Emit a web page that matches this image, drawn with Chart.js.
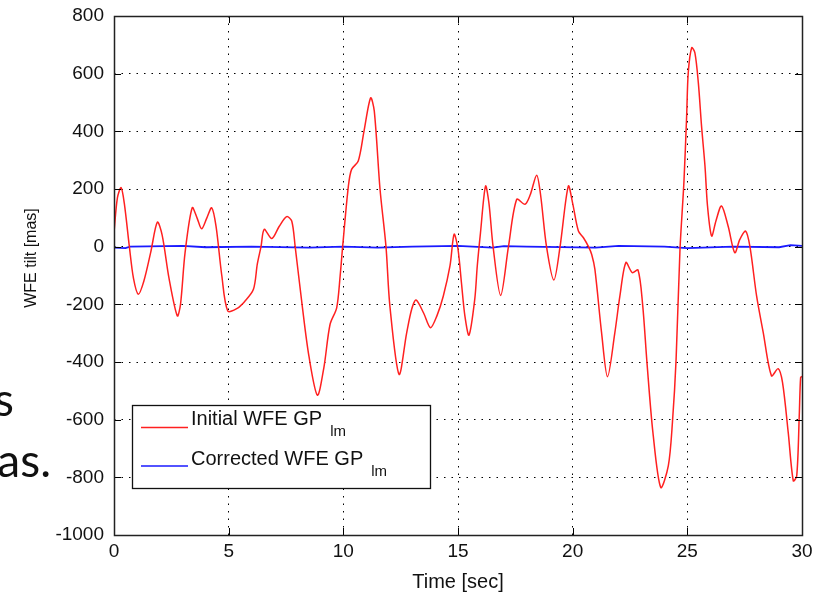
<!DOCTYPE html>
<html>
<head>
<meta charset="utf-8">
<title>WFE tilt</title>
<script src="https://cdn.jsdelivr.net/npm/chart.js@4/dist/chart.umd.min.js"></script>
<style>
    html, body { margin: 0; padding: 0; background: #fff; }
    #wrap { position: relative; width: 815px; height: 594px; overflow: hidden; }
    #wfeChart { position: absolute; left: 0; top: 0; }
    .slide-text {
        position: absolute;
        font-family: Lato, 'Noto Sans', sans-serif;
        font-size: 46px;
        line-height: 46px;
        color: #111;
        white-space: nowrap;
    }
</style>
</head>
<body>
<div id="wrap">
    <canvas id="wfeChart" width="815" height="594"></canvas>
    <div class="slide-text" style="right: 801px; top: 376px;">s</div>
    <div class="slide-text" style="right: 764px; top: 437px;">as.</div>
</div>
<script>
// ─── Data ─────────────────────────────────────────────────────────────────

const initialTime = [
    0, 0.15, 0.31, 0.45, 0.67, 0.85, 1.06, 1.3, 1.6, 1.89,
    2.1, 2.4, 2.76, 2.9, 3.1, 3.41, 3.62, 3.82, 4.05, 4.26,
    4.45, 4.7, 4.96, 5.35, 5.7, 6.08, 6.25, 6.41, 6.55, 6.88,
    7.2, 7.53, 7.75, 7.9, 8.2, 8.5, 8.87, 9.15, 9.42, 9.71,
    9.86, 9.97, 10.22, 10.36, 10.65, 10.9, 11.19, 11.35, 11.6, 11.86,
    12.03, 12.43, 12.76, 12.98, 13.17, 13.5, 13.8, 14.08, 14.36, 14.65,
    14.83, 15.0, 15.15, 15.3, 15.48, 15.73, 15.84, 15.98, 16.2, 16.35,
    16.53, 16.86, 17.2, 17.56, 17.92, 18.15, 18.43, 18.6, 18.86, 19.18,
    19.45, 19.81, 20.0, 20.25, 20.47, 20.69, 20.83, 20.97, 21.26, 21.52,
    21.84, 22.06, 22.32, 22.6, 22.85, 23.05, 23.24, 23.5, 23.84, 24.17,
    24.35, 24.51, 24.68, 24.85, 24.97, 25.04, 25.19, 25.33, 25.48, 25.62,
    25.77, 25.88, 26.06, 26.25, 26.49, 26.78, 27.07, 27.29, 27.54, 27.73,
    28.02, 28.31, 28.67, 28.96, 29.15, 29.4, 29.62, 29.77, 29.88, 29.94,
    30.0
];
const initialWfe = [
    50, 170, 205, 150, 0, -110, -165, -120, -20, 85,
    40, -110, -240, -200, -20, 135, 100, 62, 100, 135,
    70, -100, -223, -215, -190, -148, -60, 0, 60, 28,
    70, 104, 89, 0, -200, -380, -515, -420, -270, -212,
    -102, 0, 210, 268, 297, 400, 516, 470, 199, 0,
    -206, -443, -300, -217, -185, -230, -281, -240, -171, -67,
    43, -9, -125, -240, -307, -183, -67, 48, 210, 150,
    0, -169, 0, 164, 147, 180, 248, 180, 0, -116,
    0, 210, 150, 54, 31, 0, -27, -79, -298, -451,
    -298, -171, -55, -90, -81, -200, -402, -645, -835, -760,
    -610, -391, -9, 222, 453, 603, 690, 672, 568, 418,
    279, 141, 37, 90, 141, 71, -21, 25, 54, 0,
    -171, -298, -448, -423, -471, -645, -812, -795, -587, -454,
    -450
];

const correctedTime = [0, 0.5, 0.7, 3, 4, 6, 8.5, 10, 11.5, 13, 15, 16.5, 17, 18, 21, 22, 24, 25, 27, 29, 29.5, 30];
const correctedWfe  = [-3, -5, 0, 3, -2, 0, -3, 0, -3, 0, 3, -3, 2, 0, -3, 3, 0, -5, 0, -2, 5, 3];

const xTicks = [0, 5, 10, 15, 20, 25, 30];
const yTicks = [-1000, -800, -600, -400, -200, 0, 200, 400, 600, 800];

const seriesNames = ['Initial WFE GP', 'Corrected WFE GP'];
const seriesSub = 'lm';
const seriesColors = ['#ff2020', '#1a1aff'];

const xTitle = 'Time [sec]';
const yTitle = 'WFE tilt [mas]';

// ─── Helpers ──────────────────────────────────────────────────────────────

const AXIS_FONT = 'Liberation Sans';

function toPoints(xs, ys) {
    return xs.map((x, i) => ({ x, y: ys[i] }));
}

// Fix the axis box size and drop the automatic label overhang padding,
// so the plot frame lands where the reference has it.
function fixedSize(prop, size) {
    return s => {
        s[prop] = size;
        s.paddingTop = s.paddingBottom = s.paddingLeft = s.paddingRight = 0;
    };
}

// MATLAB-style frame, inward ticks, rotated y label and legend
const matlabDecor = {
    id: 'matlabDecor',
    afterDraw(chart) {
        const { ctx, chartArea: a, scales } = chart;
        const tick = 7;
        ctx.save();
        ctx.strokeStyle = '#000';
        ctx.lineWidth = 1;
        ctx.setLineDash([]);

        // inward tick marks on all four sides
        ctx.beginPath();
        xTicks.forEach(v => {
            const px = Math.round(scales.x.getPixelForValue(v)) + 0.5;
            ctx.moveTo(px, a.bottom); ctx.lineTo(px, a.bottom - tick);
            ctx.moveTo(px, a.top); ctx.lineTo(px, a.top + tick);
        });
        yTicks.forEach(v => {
            const py = Math.round(scales.y.getPixelForValue(v)) + 0.5;
            ctx.moveTo(a.left, py); ctx.lineTo(a.left + tick, py);
            ctx.moveTo(a.right, py); ctx.lineTo(a.right - tick, py);
        });
        ctx.stroke();

        // frame
        ctx.lineWidth = 1.5;
        ctx.strokeStyle = '#222';
        ctx.strokeRect(Math.round(a.left) + 0.5, Math.round(a.top) + 0.5,
            Math.round(a.right - a.left), Math.round(a.bottom - a.top));

        // y axis title
        ctx.fillStyle = '#111';
        ctx.font = `16px "${AXIS_FONT}"`;
        ctx.textAlign = 'center';
        ctx.textBaseline = 'middle';
        ctx.translate(32, 258);
        ctx.rotate(-Math.PI / 2);
        ctx.fillText(yTitle, 0, 0);
        ctx.restore();

        // legend box
        ctx.save();
        const box = { x: 132.5, y: 405.5, w: 298, h: 83 };
        ctx.fillStyle = '#fff';
        ctx.fillRect(box.x, box.y, box.w, box.h);
        ctx.strokeStyle = '#111';
        ctx.lineWidth = 1.3;
        ctx.strokeRect(box.x, box.y, box.w, box.h);

        const rows = [427.5, 466];
        const baselines = [425, 465];
        rows.forEach((ly, i) => {
            ctx.strokeStyle = seriesColors[i];
            ctx.lineWidth = 1.5;
            ctx.beginPath();
            ctx.moveTo(141, ly);
            ctx.lineTo(188, ly);
            ctx.stroke();

            ctx.fillStyle = '#111';
            ctx.textAlign = 'left';
            ctx.textBaseline = 'alphabetic';
            ctx.font = `20px "${AXIS_FONT}"`;
            ctx.fillText(seriesNames[i], 191, baselines[i]);
            const w = ctx.measureText(seriesNames[i]).width;
            ctx.font = `15px "${AXIS_FONT}"`;
            ctx.fillText(seriesSub, 191 + w + 8, baselines[i] + 11);
        });
        ctx.restore();
    }
};

// ─── Chart ────────────────────────────────────────────────────────────────

const ctx = document.getElementById('wfeChart').getContext('2d');

new Chart(ctx, {
    type: 'line',
    data: {
        datasets: [{
            label: seriesNames[0],
            data: toPoints(initialTime, initialWfe),
            borderColor: seriesColors[0],
            borderWidth: 1.5,
            pointRadius: 0,
            tension: 0.3,
            fill: false
        }, {
            label: seriesNames[1],
            data: toPoints(correctedTime, correctedWfe),
            borderColor: seriesColors[1],
            borderWidth: 1.8,
            pointRadius: 0,
            tension: 0,
            fill: false
        }]
    },
    options: {
        responsive: false,
        animation: false,
        layout: { padding: { top: 16, right: 13, left: 0, bottom: 0 } },
        plugins: {
            legend: { display: false },
            tooltip: { enabled: false }
        },
        scales: {
            x: {
                type: 'linear',
                min: 0,
                max: 30,
                afterFit: fixedSize('height', 59),
                afterBuildTicks: s => { s.ticks = xTicks.map(v => ({ value: v })); },
                grid: { color: '#000', lineWidth: 1, drawTicks: false },
                border: { display: false, dash: [1.5, 6] },
                ticks: {
                    color: '#111',
                    padding: 5,
                    maxRotation: 0,
                    font: { family: AXIS_FONT, size: 19 },
                    callback: v => String(v)
                },
                title: {
                    display: true,
                    text: xTitle,
                    color: '#111',
                    padding: { top: 0, bottom: 0 },
                    font: { family: AXIS_FONT, size: 20 }
                }
            },
            y: {
                min: -1000,
                max: 800,
                afterFit: fixedSize('width', 114),
                afterBuildTicks: s => { s.ticks = yTicks.map(v => ({ value: v })); },
                grid: { color: '#000', lineWidth: 1, drawTicks: false },
                border: { display: false, dash: [1.5, 6] },
                ticks: {
                    color: '#111',
                    padding: 10,
                    font: { family: AXIS_FONT, size: 19 },
                    callback: v => String(v)
                }
            }
        }
    },
    plugins: [matlabDecor]
});
</script>
</body>
</html>
